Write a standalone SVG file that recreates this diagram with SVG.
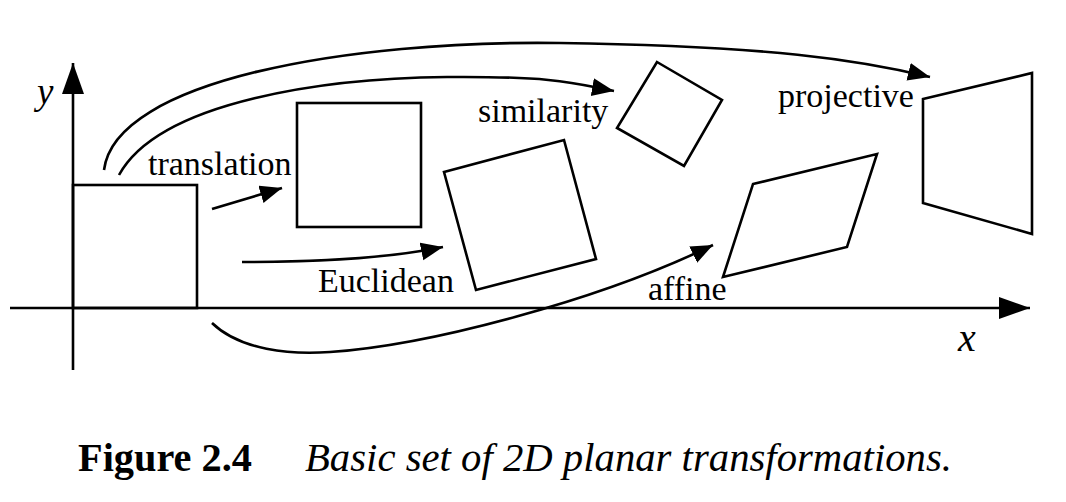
<svg xmlns="http://www.w3.org/2000/svg" width="1066" height="502" viewBox="0 0 1066 502">
  <style>
    .shape { fill: none; stroke: #000; stroke-width: 2.6; stroke-linejoin: miter; }
    .axis { fill: none; stroke: #000; stroke-width: 2.6; }
    .conn { fill: none; stroke: #000; stroke-width: 2.6; marker-end: url(#head); }
    .lbl { font-family: "Liberation Serif", "Times New Roman", serif; font-size: 34px; fill: #000; }
    .var { font-family: "Liberation Serif", "Times New Roman", serif; font-style: italic; fill: #000; }
    .cap { font-family: "Liberation Serif", "Times New Roman", serif; font-size: 40px; fill: #000; }
  </style>
  <defs>
    <marker id="head" markerUnits="userSpaceOnUse" markerWidth="24" markerHeight="20" refX="22" refY="9" orient="auto">
      <path d="M0,0 L22,9 L0,18 z" fill="#000"/>
    </marker>
    <marker id="axhead" markerUnits="userSpaceOnUse" markerWidth="33" markerHeight="24" refX="31" refY="11" orient="auto">
      <path d="M0,0 L31,11 L0,22 z" fill="#000"/>
    </marker>
  </defs>

  <g id="axes">
    <line class="axis" x1="73" y1="370" x2="73" y2="63" marker-end="url(#axhead)"/>
    <line class="axis" x1="10" y1="308" x2="1030" y2="308" marker-end="url(#axhead)"/>
    <text class="var" x="37" y="104" font-size="37">y</text>
    <text class="var" x="958" y="351" font-size="40">x</text>
  </g>

  <g id="original">
    <rect class="shape" x="73" y="185" width="124" height="123"/>
  </g>
  <g id="translation">
    <rect class="shape" x="297" y="103" width="124" height="124"/>
    <text class="lbl" x="148" y="175">translation</text>
  </g>
  <g id="euclidean">
    <polygon class="shape" points="444,172 564,140 596,259 476,290"/>
    <text class="lbl" x="318" y="292">Euclidean</text>
  </g>
  <g id="similarity">
    <polygon class="shape" points="657,62 722,100 684,166 617,128"/>
    <text class="lbl" x="478" y="122">similarity</text>
  </g>
  <g id="affine">
    <polygon class="shape" points="753,184 877,154 847,247 723,277"/>
    <text class="lbl" x="648" y="300">affine</text>
  </g>
  <g id="projective">
    <polygon class="shape" points="923,99 1032,73 1032,234 923,203"/>
    <text class="lbl" x="778" y="107">projective</text>
  </g>

  <g id="connectors">
    <path class="conn" d="M212,209 L282,188"/>
    <path class="conn" d="M242,262 C320,262 390,258 443,247"/>
    <path class="conn" d="M119,175 C160,100 330,78 447,77 S580,85 614,91"/>
    <path class="conn" d="M104,170 C115,80 350,40 560,43 S860,60 930,77"/>
    <path class="conn" d="M212,323 C240,350 290,355 330,352 C430,345 600,300 713,245"/>
  </g>

  <g id="caption">
    <text class="cap" x="78" y="471" font-weight="bold" textLength="174" lengthAdjust="spacingAndGlyphs">Figure 2.4</text>
    <text class="cap" x="305" y="471" font-style="italic" textLength="647" lengthAdjust="spacingAndGlyphs">Basic set of 2D planar transformations.</text>
  </g>
</svg>
